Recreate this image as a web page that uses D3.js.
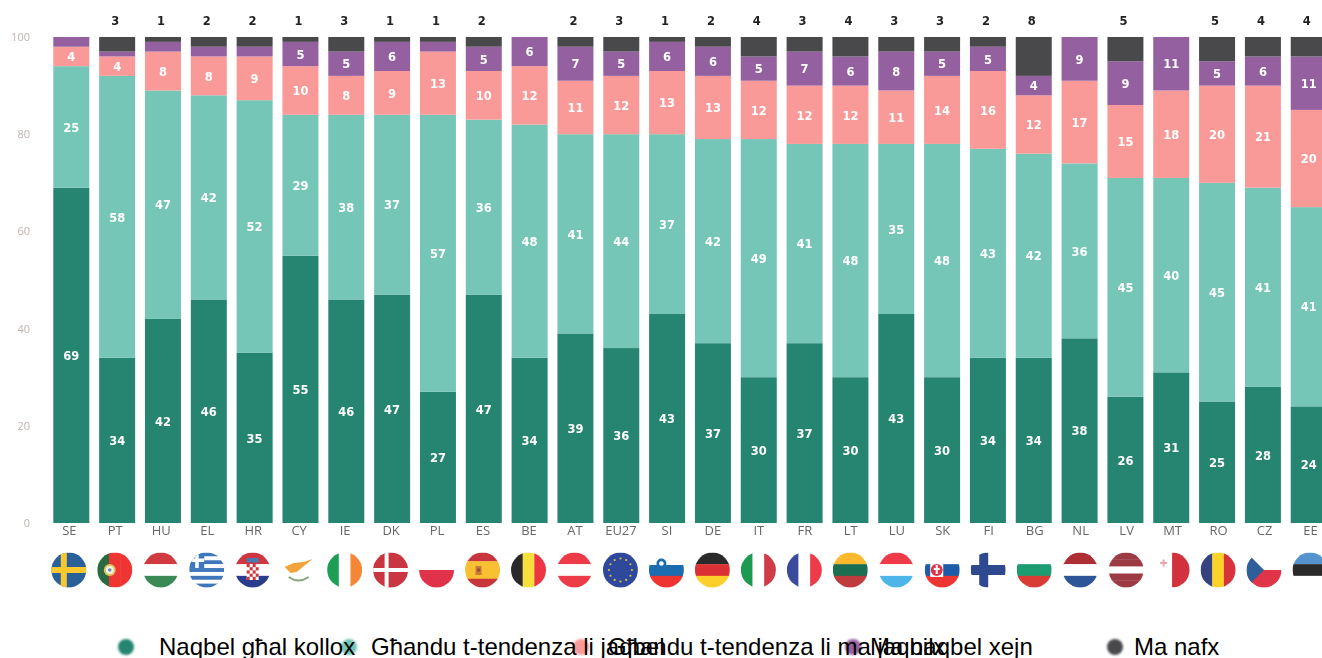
<!DOCTYPE html>
<html><head><meta charset="utf-8">
<script src="https://cdn.jsdelivr.net/npm/d3@7"></script>
<style>html,body{margin:0;padding:0;background:#fff;overflow:hidden}svg{display:block}</style>
</head><body><svg id="c" width="1322" height="658"></svg>
<script>
const countries=["SE","PT","HU","EL","HR","CY","IE","DK","PL","ES","BE","AT","EU27","SI","DE","IT","FR","LT","LU","SK","FI","BG","NL","LV","MT","RO","CZ","EE"];
const agree=[69,34,42,46,35,55,46,47,27,47,34,39,36,43,37,30,37,30,43,30,34,34,38,26,31,25,28,24];
const tendAgree=[25,58,47,42,52,29,38,37,57,36,48,41,44,37,42,49,41,48,35,48,43,42,36,45,40,45,41,41];
const tendDisagree=[4,4,8,8,9,10,8,9,13,10,12,11,12,13,13,12,12,12,11,14,16,12,17,15,18,20,21,20];
const disagree=[2,1,2,2,2,5,5,6,2,5,6,7,5,6,6,5,7,6,8,5,5,4,9,9,11,5,6,11];
const dontKnow=[0,3,1,2,2,1,3,1,1,2,0,2,3,1,2,4,3,4,3,3,2,8,0,5,0,5,4,4];
const seriesNames=["Naqbel għal kollox","Għandu t-tendenza li jaqbel","Għandu t-tendenza li ma jaqbilx","Ma naqbel xejn","Ma nafx"];
const seriesColors=["#288570","#74c6b6","#fa9a98","#9560a0","#4a494b"];
const yTicks=[0,20,40,60,80,100];
// flag stripes: orientation, colours
const flagDir=["h","v","h","h","h","h","v","h","h","h","v","h","h","h","h","v","v","h","h","h","h","h","h","h","v","v","h","h"];
const flagColors=[["#2a6199"],["#2a6b3f","#ee3433","#ee3433"],["#cf3a3f","#fff","#3a8a56"],["#3f76ba","#fff","#3f76ba","#fff","#3f76ba","#fff","#3f76ba","#fff","#3f76ba"],["#d0343f","#fff","#2c3c8c"],["#fff"],["#1f9e55","#fff","#f58634"],["#c9353f"],["#fff","#e0334a"],["#c8363c","#f8c132","#f8c132","#c8363c"],["#2b2b2b","#f7e03d","#ee3442"],["#ee3a48","#fff","#ee3a48"],["#2f4a9c"],["#fff","#1f6cb0","#ee3433"],["#2b2b2b","#dd3036","#fdcf2a"],["#1e9a50","#fff","#cf3a46"],["#3a4b9c","#fff","#ee3a48"],["#fdb92f","#1f6e52","#bf3a3c"],["#ee3a48","#fff","#4db5e8"],["#fff","#1f5ca8","#ee3433"],["#fff"],["#fff","#1d9c70","#d93a36"],["#ad2f36","#fff","#2f5597"],["#9d3a45","#9d3a45","#fff","#9d3a45","#9d3a45"],["#fff","#d2323c"],["#36427f","#fdd32c","#d8323c"],["#fff","#e0344a"],["#5493cf","#2b2b2b","#fff"]];

const svg=d3.select("#c");
const defs=svg.append("defs");
defs.append("filter").attr("id","soft").attr("x","-5%").attr("y","-5%").attr("width","110%").attr("height","110%")
  .append("feGaussianBlur").attr("stdDeviation",0.7);
defs.append("filter").attr("id","softer").attr("x","-50%").attr("y","-50%").attr("width","200%").attr("height","200%")
  .append("feGaussianBlur").attr("stdDeviation",1.1);
const chart=svg.append("g").attr("filter","url(#soft)");

const y=d3.scaleLinear().domain([0,100]).range([523,37]);
const x=d3.scaleBand().domain(countries).range([48.4,48.4+28*45.83]).paddingInner(0.2145).paddingOuter(0.107);
const xl=d3.scalePoint().domain(countries).range([68.8,1310]);

const table=countries.map((c,i)=>({c,v:[agree[i],tendAgree[i],tendDisagree[i],disagree[i],dontKnow[i]]}));
const stacked=d3.stack().keys([0,1,2,3,4]).value((d,k)=>d.v[k])(table);

const layers=chart.selectAll("g.layer").data(stacked).join("g").attr("class","layer").attr("fill",(d,i)=>seriesColors[i]);
layers.selectAll("rect").data(d=>d.filter(p=>p[1]>p[0])).join("rect")
  .attr("x",d=>x(d.data.c)).attr("width",x.bandwidth())
  .attr("y",d=>y(d[1])).attr("height",d=>y(d[0])-y(d[1]));

// value labels
stacked.slice(0,4).forEach(s=>{
  chart.append("g").selectAll("text").data(s.filter(p=>p[1]-p[0]>=4)).join("text")
   .attr("x",d=>x(d.data.c)+x.bandwidth()/2).attr("y",d=>y((d[0]+d[1])/2)+0.6).attr("dy",".36em")
   .attr("text-anchor","middle").attr("fill","#fff").attr("font-family","DejaVu Sans").attr("font-weight","bold").attr("font-size",11.5)
   .text(d=>d[1]-d[0]);
});
chart.append("g").selectAll("text").data(table.filter(d=>d.v[4]>0)).join("text")
   .attr("x",d=>x(d.c)+x.bandwidth()/2-2).attr("y",25)
   .attr("text-anchor","middle").attr("fill","#222").attr("font-family","DejaVu Sans").attr("font-weight","bold").attr("font-size",11.5)
   .text(d=>d.v[4]);

// axes
const axisY=d3.axisLeft(y).tickValues(yTicks).tickSize(0).tickPadding(0);
const ya=chart.append("g").attr("transform","translate(30,0)").call(axisY);
ya.select(".domain").remove();
ya.selectAll("text").attr("fill","#bdb3ad").attr("font-family","Open Sans").attr("font-size",11);
const axisX=d3.axisBottom(xl).tickSize(0).tickPadding(0);
const xa=chart.append("g").attr("transform","translate(0,526)").call(axisX);
xa.select(".domain").remove();
xa.selectAll("text").attr("fill","#666").attr("font-family","Open Sans").attr("font-size",13);

// flags
const R=17.5, fy=570;
const flags=chart.append("g");
countries.forEach((c,i)=>{
  const id="f"+i, cx=xl(c);
  defs.append("clipPath").attr("id",id).append("circle").attr("cx",cx).attr("cy",fy).attr("r",R);
  const g=flags.append("g").attr("clip-path",`url(#${id})`);
  const cols=flagColors[i], n=cols.length, s=d3.scaleBand().domain(d3.range(n)).range([-R,R]);
  g.selectAll("rect").data(cols).join("rect")
   .attr("x",(d,k)=>flagDir[i]==="v"?cx+s(k):cx-R).attr("y",(d,k)=>flagDir[i]==="h"?fy+s(k):fy-R)
   .attr("width",flagDir[i]==="v"?s.bandwidth()+.3:2*R).attr("height",flagDir[i]==="h"?s.bandwidth()+.3:2*R)
   .attr("fill",d=>d);
  const rect=(a,b,w,h,f)=>g.append("rect").attr("x",cx+a).attr("y",fy+b).attr("width",w).attr("height",h).attr("fill",f);
  const dot=(a,b,r,f)=>g.append("circle").attr("cx",cx+a).attr("cy",fy+b).attr("r",r).attr("fill",f);
  if(c==="SE"){rect(-R,-3,2*R,6,"#f7c92e");rect(-8,-R,6,2*R,"#f7c92e");}
  if(c==="DK"){rect(-R,-2,2*R,4,"#fff");rect(-6,-R,4,2*R,"#fff");}
  if(c==="FI"){rect(-R,-5,2*R,10,"#2f4a8f");rect(-9,-R,9,2*R,"#2f4a8f");}
  if(c==="EL"){rect(-R,-R,15,15.5,"#3f76ba");rect(-R,-11.5,15,3.5,"#fff");rect(-11.5,-R,3.5,15.5,"#fff");}
  if(c==="PT"){dot(-5,0,6,"#e0c060");dot(-5,0,4,"#f4f1e8");dot(-5,0,1.8,"#6f8ab5");}
  if(c==="HR"){
    rect(-6,-6,12,16,"#fff");
    d3.range(4).forEach(a=>d3.range(5).forEach(b=>{if((a+b)%2===0)rect(-6+a*3,-6+b*3.2,3,3.2,"#d0343f");}));
    rect(-6,-12,12,4.5,"#4a7ab0");
  }
  if(c==="ES"){rect(-7,-4,6,9,"#c77a3a");dot(-4,0,1.8,"#9c4a3a");}
  if(c==="SI"){rect(-R,-R,2*R,R-5,"#fff");dot(-5,-6.5,5,"#1f6cb0");dot(-5,-6.5,2.3,"#fff");}
  if(c==="SK"){rect(-12,-7,13,14,"#fff");dot(-5.5,0,6,"#e0344a");rect(-6.5,-5,2,9,"#fff");rect(-8.5,-2,6,2,"#fff");}
  if(c==="CZ"){const t=d3.path();t.moveTo(cx-R,fy-R);t.lineTo(cx,fy);t.lineTo(cx-R,fy+R);t.closePath();g.append("path").attr("d",t.toString()).attr("fill","#2f5e98");}
  if(c==="EU27"){d3.range(12).forEach(k=>{const a=k/12*2*Math.PI;dot(11.5*Math.cos(a),11.5*Math.sin(a),1.1,"#d8bf45");});}
  if(c==="CY"){const t=d3.path();t.moveTo(cx-14,fy-3);t.lineTo(cx-5,fy-7);t.lineTo(cx+5,fy-8);t.lineTo(cx+14,fy-11);t.lineTo(cx+4,fy-3);t.lineTo(cx-2,fy+2);t.lineTo(cx-8,fy+3);t.closePath();g.append("path").attr("d",t.toString()).attr("fill","#f2a33a");
    g.append("path").attr("d",`M${cx-10},${fy+7}Q${cx},${fy+14} ${cx+10},${fy+7}`).attr("fill","none").attr("stroke","#8aa57a").attr("stroke-width",2);}
  if(c==="MT"){rect(-12,-8,7,2,"#e8a8b0");rect(-9.5,-10.5,2,7,"#e8a8b0");}
});

// legend
const legendDotX=[126,349,581,853,1115], legendTextX=[159,371,608,870,1134];
svg.append("g").attr("filter","url(#softer)").selectAll("circle").data(seriesNames).join("circle")
  .attr("cx",(d,i)=>legendDotX[i]).attr("cy",647).attr("r",8).attr("fill",(d,i)=>seriesColors[i]);
svg.append("g").selectAll("text").data(seriesNames).join("text")
  .attr("x",(d,i)=>legendTextX[i]).attr("y",655).attr("font-family","Liberation Sans").attr("font-size",24).attr("fill","#000").text(d=>d);
</script></body></html>
